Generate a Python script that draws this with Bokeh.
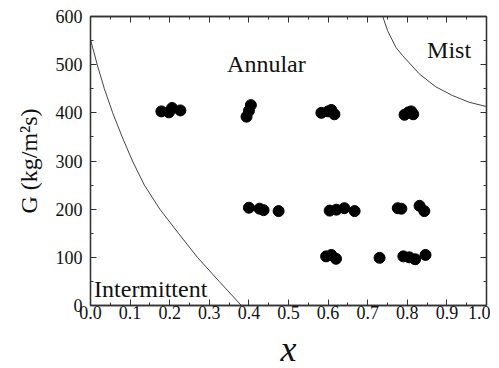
from bokeh.plotting import figure
from bokeh.models import (LinearAxis, SingleIntervalTicker, PrintfTickFormatter,
                          Label, Range1d, CustomJSTickFormatter, Title)
from bokeh.embed import file_html
from bokeh.resources import INLINE

# ---- data ----
x_400 = [0.179, 0.198, 0.206, 0.227, 0.394, 0.400, 0.405, 0.583, 0.600, 0.608, 0.616,
         0.793, 0.803, 0.810, 0.815]
g_400 = [403, 401, 410, 405, 392, 404, 416, 400, 403, 406, 397, 396, 401, 403, 397]

x_200 = [0.400, 0.427, 0.437, 0.475, 0.604, 0.621, 0.641, 0.667, 0.776, 0.785, 0.831, 0.843]
g_200 = [203, 201, 198, 196, 197, 199, 202, 196, 202, 201, 207, 196]

x_100 = [0.595, 0.608, 0.620, 0.730, 0.790, 0.805, 0.820, 0.846]
g_100 = [102, 105, 97, 99, 102, 100, 96, 105]

# Annular / Intermittent transition line
x_int = [0.0, 0.017, 0.035, 0.056, 0.080, 0.106, 0.136, 0.175, 0.222, 0.270, 0.325, 0.381]
g_int = [552, 500, 450, 400, 350, 300, 250, 200, 150, 100, 50, 0]

# Annular / Mist transition line
x_mist = [0.738, 0.750, 0.771, 0.788, 0.830, 0.872, 0.914, 0.956, 1.0]
g_mist = [600, 571, 536, 519, 481, 454, 436, 422, 413]

region_labels = ["Annular", "Mist", "Intermittent"]
y_title = "G (kg/m\u00b2s)"
x_title = "x"

FONT = "Liberation Serif"
AX = "#333333"

p = figure(frame_width=396, frame_height=289,
           x_range=Range1d(0, 1), y_range=Range1d(0, 600),
           output_backend="svg", toolbar_location=None,
           min_border_left=90, min_border_right=4, min_border_top=16,
           min_border_bottom=58)
p.grid.visible = False
p.outline_line_color = AX
p.outline_line_width = 1.3
p.background_fill_color = "white"
p.border_fill_color = "white"

def style(ax, labels=True):
    ax.axis_line_color = AX
    ax.axis_line_width = 1.3
    ax.major_tick_line_color = AX
    ax.minor_tick_line_color = AX
    ax.major_tick_in = 6
    ax.major_tick_out = 0
    ax.minor_tick_in = 3
    ax.minor_tick_out = 0
    ax.major_label_text_font = FONT
    ax.major_label_text_color = "#111111"
    if labels:
        ax.major_label_text_font_size = "18px"
    else:
        ax.major_label_text_font_size = "0px"
        ax.major_label_standoff = 0
        ax.formatter = CustomJSTickFormatter(code="return ''")

p.xaxis.ticker = SingleIntervalTicker(interval=0.1, num_minor_ticks=2)
p.yaxis.ticker = SingleIntervalTicker(interval=100, num_minor_ticks=2)
p.xaxis.formatter = PrintfTickFormatter(format="%.1f")
style(p.xaxis[0])
style(p.yaxis[0])
p.xaxis.major_label_text_font = FONT
p.yaxis.major_label_text_font = FONT
p.xaxis.major_label_text_font_size = "18px"
p.yaxis.major_label_text_font_size = "18px"
p.xaxis.major_label_standoff = 0
p.yaxis.major_label_standoff = 8

# x axis title
p.xaxis.axis_label = x_title
p.xaxis.axis_label_text_font = FONT
p.xaxis.axis_label_text_font_size = "36px"
p.xaxis.axis_label_text_font_style = "italic"
p.xaxis.axis_label_text_color = "#111111"
p.xaxis.axis_label_standoff = 7

# y axis title as a side title
p.add_layout(Title(text=y_title, text_font=FONT, text_font_size="24px",
                   text_font_style="normal", text_color="#111111", align="center",
                   standoff=22), "left")

top = LinearAxis(ticker=SingleIntervalTicker(interval=0.1, num_minor_ticks=2))
right = LinearAxis(ticker=SingleIntervalTicker(interval=100, num_minor_ticks=2))
style(top, labels=False)
style(right, labels=False)
p.add_layout(top, "above")
p.add_layout(right, "right")

# transition lines
p.line(x_int, g_int, line_color="#444444", line_width=1)
p.line(x_mist, g_mist, line_color="#444444", line_width=1)

# data points
for xs, gs in ((x_400, g_400), (x_200, g_200), (x_100, g_100)):
    p.scatter(xs, gs, size=11, fill_color="black", line_color="black")

# region labels
for txt, lx, ly in zip(region_labels, [0.345, 0.85, 0.009], [502, 531, 35]):
    p.add_layout(Label(x=lx, y=ly, text=txt, text_font=FONT, text_font_size="24px",
                       text_color="#111111", text_baseline="alphabetic", text_align="left"))

open("out.html", "w").write(file_html(p, INLINE))
